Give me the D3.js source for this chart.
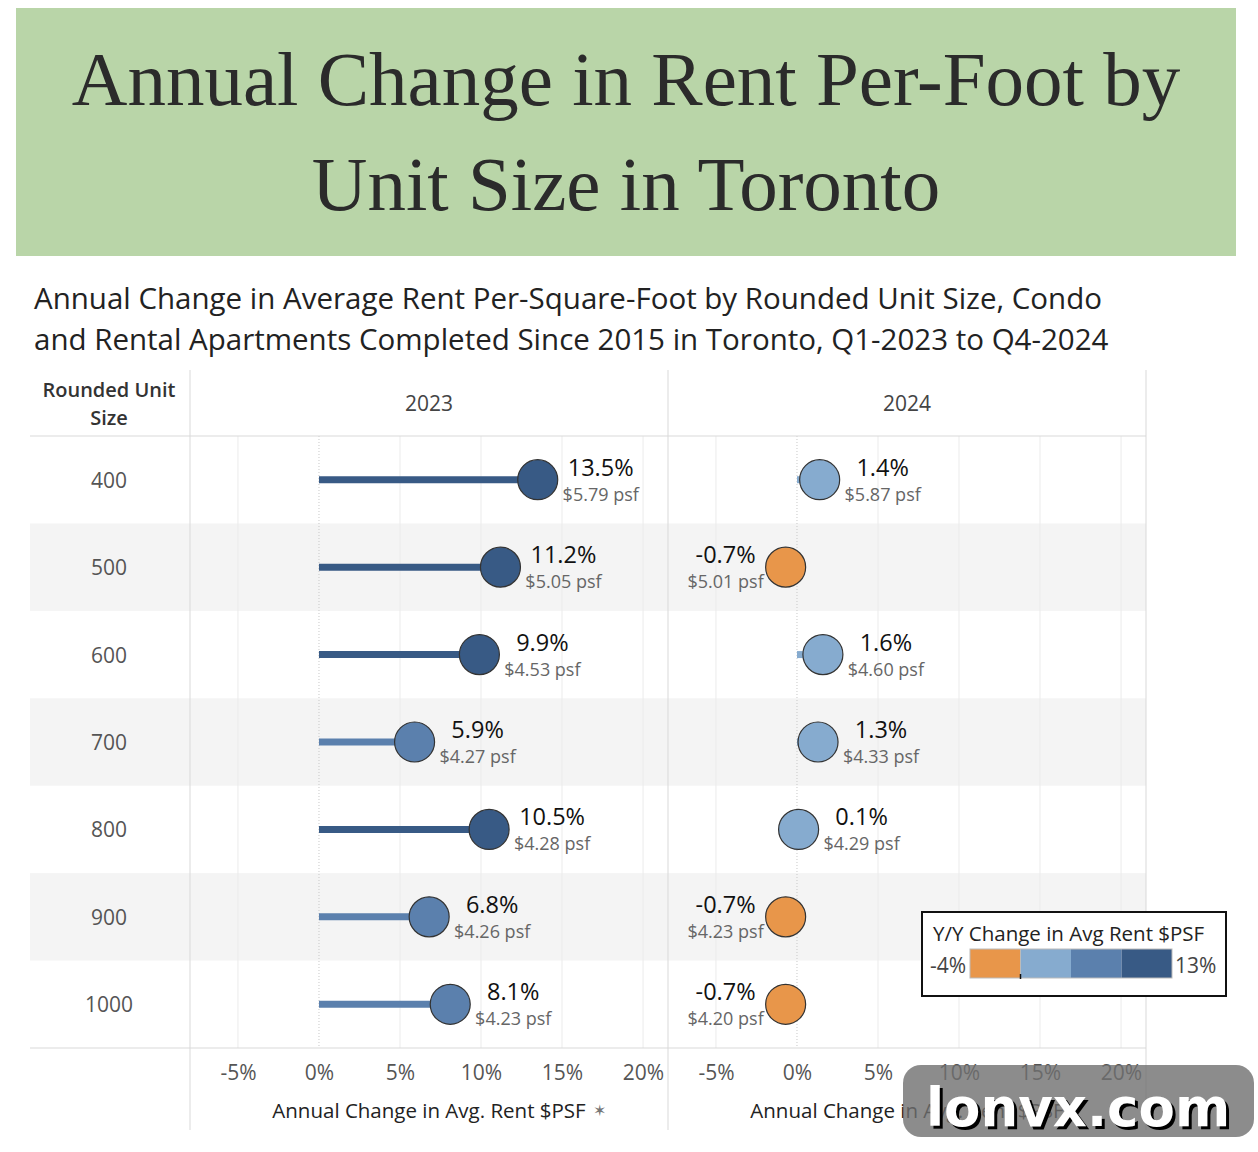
<!DOCTYPE html>
<html>
<head>
<meta charset="utf-8">
<script src="https://cdn.jsdelivr.net/npm/d3@7"></script>
<style>
  body { margin: 0; background: #fff; }
  text { font-family: "Open Sans", Lato, sans-serif; }
</style>
</head>
<body>
<div id="chart"></div>
<script>
// Rent per square foot lollipop chart, two year panels
var sizes = ["400", "500", "600", "700", "800", "900", "1000"];
var years = ["2023", "2024"];
var change2023 = [13.5, 11.2, 9.9, 5.9, 10.5, 6.8, 8.1];
var psf2023 = [5.79, 5.05, 4.53, 4.27, 4.28, 4.26, 4.23];
var change2024 = [1.4, -0.7, 1.6, 1.3, 0.1, -0.7, -0.7];
var psf2024 = [5.87, 5.01, 4.60, 4.33, 4.29, 4.23, 4.20];
var tickValues = [-5, 0, 5, 10, 15, 20];
var legendSteps = ["#e8964a", "#86abcf", "#5b80ad", "#385a85"];
var legendBreaks = [0, 4.5, 8.75];
var legendRange = [-4, 13];

var W = 1258, H = 1152;
var svg = d3.select("#chart").append("svg")
  .attr("width", W).attr("height", H);

// title banner
svg.append("rect").attr("x", 16).attr("y", 8).attr("width", 1220).attr("height", 248)
  .attr("fill", "#b9d5a8");
var title = svg.append("text")
  .attr("text-anchor", "middle")
  .style("font-family", "'Liberation Serif', 'DejaVu Serif', serif")
  .style("font-size", "77px")
  .attr("fill", "#2b2b2b");
title.append("tspan").attr("x", 626).attr("y", 105).text("Annual Change in Rent Per-Foot by");
title.append("tspan").attr("x", 626).attr("y", 210).text("Unit Size in Toronto");

// subtitle
var sub = svg.append("text").style("font-size", "29.5px").attr("fill", "#222");
sub.append("tspan").attr("x", 34).attr("y", 309).text("Annual Change in Average Rent Per-Square-Foot by Rounded Unit Size, Condo");
sub.append("tspan").attr("x", 34).attr("y", 350).text("and Rental Apartments Completed Since 2015 in Toronto, Q1-2023 to Q4-2024");

// table geometry
var leftX = 30, labelW = 160, panelW = 478;
var topY = 370, headerH = 66, bottomY = 1048;
var y = d3.scaleBand().domain(sizes).range([topY + headerH, bottomY]);

var color = d3.scaleThreshold().domain(legendBreaks).range(legendSteps);

// banding
svg.selectAll(".band").data(sizes.filter(function(d, i) { return i % 2 === 1; }))
  .enter().append("rect")
  .attr("x", leftX).attr("width", labelW + 2 * panelW)
  .attr("y", function(d) { return y(d); })
  .attr("height", y.bandwidth())
  .attr("fill", "#f4f4f4");

// row labels
svg.selectAll(".rowlab").data(sizes).enter().append("text")
  .attr("x", leftX + labelW / 2 - 1)
  .attr("y", function(d) { return y(d) + y.bandwidth() / 2 + 8; })
  .attr("text-anchor", "middle")
  .style("font-size", "21px")
  .attr("fill", "#555")
  .text(function(d) { return d; });

var hdr = svg.append("text").attr("text-anchor", "middle")
  .style("font-size", "20px").style("font-weight", "600").attr("fill", "#333");
hdr.append("tspan").attr("x", leftX + labelW / 2 - 1).attr("y", 397).text("Rounded Unit");
hdr.append("tspan").attr("x", leftX + labelW / 2 - 1).attr("y", 425).text("Size");

var panels = [
  { year: "2023", change: change2023, psf: psf2023 },
  { year: "2024", change: change2024, psf: psf2024 }
];

panels.forEach(function(p, k) {
  var x0 = leftX + labelW + k * panelW;
  var x = d3.scaleLinear().domain([-7.96, 21.54]).range([x0, x0 + panelW]);
  var g = svg.append("g");

  // gridlines
  g.selectAll(".grid").data(tickValues).enter().append("line")
    .attr("x1", function(d) { return x(d); }).attr("x2", function(d) { return x(d); })
    .attr("y1", topY + headerH).attr("y2", bottomY)
    .attr("stroke", function(d) { return d === 0 ? "#c8c8c8" : "#ebebeb"; })
    .attr("stroke-width", 1)
    .attr("stroke-dasharray", function(d) { return d === 0 ? "1,2" : null; });

  // year header
  g.append("text").attr("x", x0 + panelW / 2).attr("y", 411)
    .attr("text-anchor", "middle").style("font-size", "21px").attr("fill", "#444")
    .text(p.year);

  // axis
  var axis = g.append("g").attr("transform", "translate(0," + bottomY + ")")
    .call(d3.axisBottom(x).tickValues(tickValues).tickSize(0).tickPadding(17)
      .tickFormat(function(d) { return d + "%"; }));
  axis.select(".domain").remove();
  axis.selectAll("text").style("font-size", "21px").attr("fill", "#555")
    .style("font-family", "'Open Sans', Lato, sans-serif");

  var at = g.append("text").attr("x", x0 + panelW / 2).attr("y", 1118)
    .attr("text-anchor", "middle").style("font-size", "20.5px").attr("fill", "#222")
    .text("Annual Change in Avg. Rent $PSF");
  if (k === 0) {
    var tw = at.node().getComputedTextLength();
    g.append("text").attr("x", x0 + panelW / 2 + tw / 2 + 14).attr("y", 1116)
      .attr("text-anchor", "middle").style("font-size", "16px").attr("fill", "#777")
      .text("\u2736");
  }

  var rows = g.selectAll(".row").data(sizes).enter().append("g")
    .attr("transform", function(d) { return "translate(0," + (y(d) + y.bandwidth() / 2) + ")"; });

  rows.append("line")
    .attr("x1", x(0))
    .attr("x2", function(d, i) { return x(p.change[i]); })
    .attr("stroke", function(d, i) { return color(p.change[i]); })
    .attr("stroke-width", 7);

  rows.append("circle")
    .attr("cx", function(d, i) { return x(p.change[i]); })
    .attr("r", 20)
    .attr("fill", function(d, i) { return color(p.change[i]); })
    .attr("stroke", "#333").attr("stroke-width", 1.2);

  function labX(d, i) {
    return x(p.change[i]) + (p.change[i] < 0 ? -60 : 63);
  }
  rows.append("text").attr("x", labX).attr("y", -4)
    .attr("text-anchor", "middle").style("font-size", "23.5px").attr("fill", "#111")
    .text(function(d, i) { return p.change[i].toFixed(1) + "%"; });
  rows.append("text").attr("x", labX).attr("y", 21)
    .attr("text-anchor", "middle").style("font-size", "18px").attr("fill", "#666")
    .text(function(d, i) { return "$" + p.psf[i].toFixed(2) + " psf"; });
});

// table rules
svg.append("line").attr("x1", leftX).attr("x2", leftX + labelW + 2 * panelW)
  .attr("y1", topY + headerH).attr("y2", topY + headerH).attr("stroke", "#d9d9d9");
svg.append("line").attr("x1", leftX).attr("x2", leftX + labelW + 2 * panelW)
  .attr("y1", bottomY).attr("y2", bottomY).attr("stroke", "#d9d9d9");
[0, 1, 2].forEach(function(k) {
  var xx = leftX + labelW + k * panelW;
  svg.append("line").attr("x1", xx).attr("x2", xx)
    .attr("y1", topY).attr("y2", k === 2 ? bottomY + 82 : 1130)
    .attr("stroke", "#d9d9d9");
});

// legend
var lg = svg.append("g");
lg.append("rect").attr("x", 922).attr("y", 912).attr("width", 304).attr("height", 84)
  .attr("fill", "#fff").attr("stroke", "#111").attr("stroke-width", 2);
lg.append("text").attr("x", 933).attr("y", 941).style("font-size", "20.5px").attr("fill", "#222")
  .text("Y/Y Change in Avg Rent $PSF");
var segW = 202 / legendSteps.length;
lg.selectAll(".sw").data(legendSteps).enter().append("rect")
  .attr("x", function(d, i) { return 970 + i * segW; })
  .attr("width", segW)
  .attr("y", 949).attr("height", 29)
  .attr("fill", function(d) { return d; });
lg.append("rect").attr("x", 970).attr("y", 949).attr("width", 202).attr("height", 29)
  .attr("fill", "none").attr("stroke", "#bbb");
lg.append("line").attr("x1", 970 + segW).attr("x2", 970 + segW).attr("y1", 974).attr("y2", 979)
  .attr("stroke", "#111").attr("stroke-width", 1.5);
lg.append("text").attr("x", 966).attr("y", 973).attr("text-anchor", "end")
  .style("font-size", "21px").attr("fill", "#444").text(legendRange[0] + "%");
lg.append("text").attr("x", 1175).attr("y", 973)
  .style("font-size", "21px").attr("fill", "#444").text(legendRange[1] + "%");

// watermark
svg.append("rect").attr("x", 903).attr("y", 1065).attr("width", 351).attr("height", 72)
  .attr("rx", 18).attr("fill", "#6f6f6f").attr("opacity", 0.8);
svg.append("text").attr("x", 1081).attr("y", 1129).attr("text-anchor", "middle")
  .style("font-size", "53px").style("font-weight", "bold")
  .style("font-family", "'DejaVu Sans', sans-serif")
  .attr("fill", "#000").text("lonvx.com");
svg.append("text").attr("x", 1078).attr("y", 1126).attr("text-anchor", "middle")
  .style("font-size", "53px").style("font-weight", "bold")
  .style("font-family", "'DejaVu Sans', sans-serif")
  .attr("fill", "#fff").text("lonvx.com");
</script>
</body>
</html>
